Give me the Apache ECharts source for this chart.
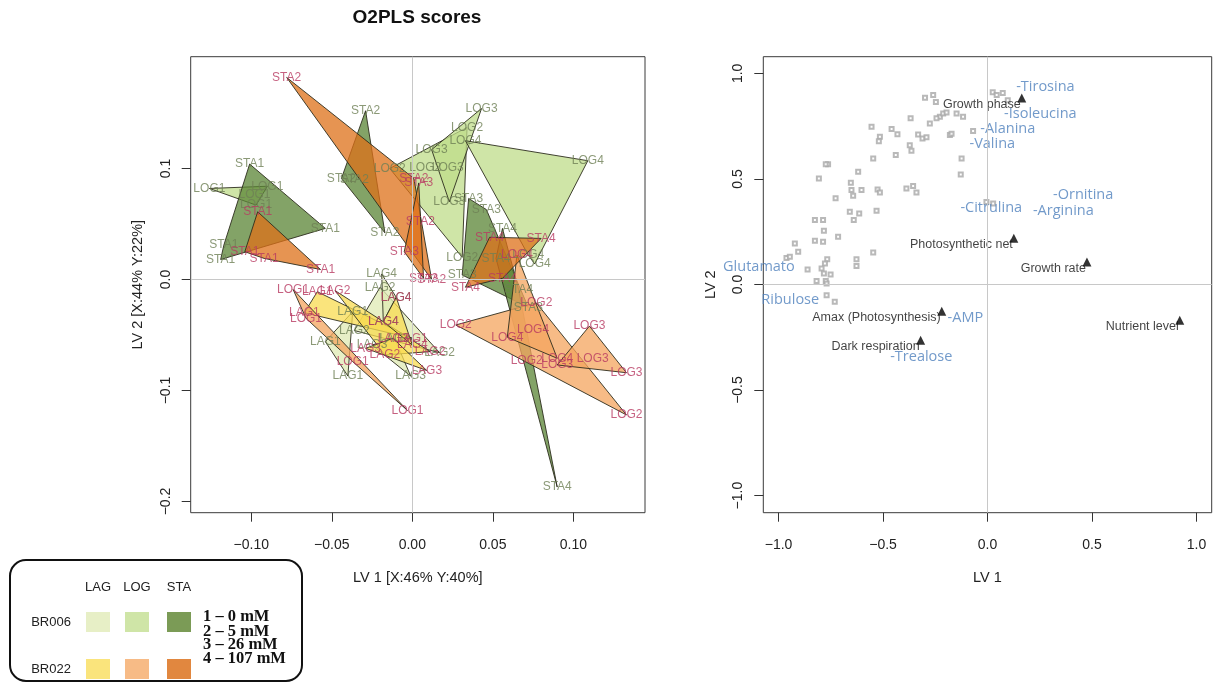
<!DOCTYPE html>
<html>
<head>
<meta charset="utf-8">
<title>O2PLS scores</title>
<script src="https://cdn.jsdelivr.net/npm/echarts@6/dist/echarts.min.js"></script>
<style>
  html, body { margin: 0; padding: 0; background: #fff; }
  #chart { width: 1228px; height: 683px; }
</style>
</head>
<body>
<div id="chart"></div>
<script>
// ---- Score plot (LV1 vs LV2): replicate scores per strain / growth phase.
// Each array holds four groups, one per nitrate dose (1..4).
const BR006_LAG = [
  [[-0.037, -0.029], [-0.040, -0.087], [-0.054, -0.056]],
  [[-0.020, -0.007], [0.017, -0.066], [-0.036, -0.046]],
  [[-0.001, -0.087], [-0.011, -0.053], [-0.025, -0.059]],
  [[-0.019, 0.005], [-0.010, -0.016], [-0.018, -0.038]]
];
const BR006_LOG = [
  [[-0.126, 0.082], [-0.090, 0.084], [-0.098, 0.076], [-0.097, 0.067]],
  [[-0.014, 0.100], [0.008, 0.101], [0.034, 0.137], [0.031, 0.020]],
  [[0.043, 0.154], [0.012, 0.117], [0.023, 0.070], [0.022, 0.101]],
  [[0.033, 0.125], [0.109, 0.107], [0.076, 0.014], [0.072, 0.022]]
];
const BR006_STA = [
  [[-0.101, 0.104], [-0.054, 0.046], [-0.117, 0.031], [-0.119, 0.018]],
  [[-0.029, 0.152], [-0.044, 0.091], [-0.036, 0.090], [-0.017, 0.042]],
  [[0.035, 0.073], [0.046, 0.063], [0.031, 0.004], [0.072, -0.025]],
  [[0.056, 0.046], [0.066, -0.009], [0.090, -0.187], [0.052, 0.019]]
];
const BR022_LAG = [
  [[-0.059, -0.011], [-0.067, -0.030], [0.000, -0.053]],
  [[-0.048, -0.010], [0.011, -0.065], [-0.017, -0.068]],
  [[-0.012, -0.053], [0.009, -0.082], [-0.029, -0.062]],
  [[-0.018, -0.038], [-0.010, -0.016], [0.000, -0.059]]
];
const BR022_LOG = [
  [[-0.074, -0.009], [-0.066, -0.035], [-0.037, -0.074], [-0.003, -0.118]],
  [[0.027, -0.041], [0.077, -0.021], [0.133, -0.122], [0.071, -0.073]],
  [[0.110, -0.042], [0.133, -0.084], [0.090, -0.077], [0.112, -0.071]],
  [[0.059, -0.052], [0.075, -0.045], [0.065, 0.022], [0.090, -0.071]]
];
const BR022_STA = [
  [[-0.096, 0.061], [-0.104, 0.025], [-0.057, 0.009], [-0.092, 0.019]],
  [[-0.078, 0.182], [0.001, 0.091], [0.005, 0.052], [0.012, 0.000]],
  [[0.004, 0.087], [-0.005, 0.025], [0.007, 0.001]],
  [[0.048, 0.038], [0.080, 0.037], [0.033, -0.007], [0.056, 0.001]]
];

const phases = ['LAG', 'LOG', 'STA'];
const strains = ['BR006', 'BR022'];
const doseLabels = ['1 \u2013 0 mM', '2 \u2013 5 mM', '3 \u2013 26 mM', '4 \u2013 107 mM'];
const scoreTicksX = [-0.10, -0.05, 0.00, 0.05, 0.10];
const scoreTicksY = [-0.2, -0.1, 0.0, 0.1];

// ---- Loading plot (LV1 vs LV2)
const loadTicks = [-1.0, -0.5, 0.0, 0.5, 1.0];
const metaboliteCloud = [
  [-0.299, 0.884], [-0.260, 0.897], [-0.247, 0.865], [-0.228, 0.794], [-0.212, 0.810],
  [-0.196, 0.815], [-0.244, 0.787], [-0.276, 0.763], [-0.148, 0.810], [-0.117, 0.794],
  [-0.368, 0.787], [-0.555, 0.747], [-0.459, 0.736], [-0.431, 0.712], [-0.515, 0.700],
  [-0.520, 0.679], [-0.332, 0.711], [-0.311, 0.692], [-0.292, 0.697], [-0.372, 0.660],
  [-0.364, 0.633], [-0.180, 0.708], [-0.172, 0.714], [-0.069, 0.727], [-0.124, 0.597],
  [-0.547, 0.597], [-0.439, 0.613], [-0.763, 0.569], [-0.774, 0.570], [-0.619, 0.534],
  [-0.807, 0.502], [-0.654, 0.482], [-0.651, 0.447], [-0.603, 0.448], [-0.643, 0.420],
  [-0.727, 0.408], [-0.526, 0.450], [-0.515, 0.436], [-0.388, 0.455], [-0.356, 0.466],
  [-0.340, 0.436], [-0.659, 0.344], [-0.614, 0.336], [-0.531, 0.349], [-0.640, 0.305],
  [-0.826, 0.305], [-0.787, 0.305], [-0.783, 0.254], [-0.715, 0.226], [-0.826, 0.207],
  [-0.787, 0.202], [-0.922, 0.194], [-0.906, 0.155], [-0.962, 0.126], [-0.946, 0.131],
  [-0.547, 0.152], [-0.627, 0.120], [-0.627, 0.088], [-0.767, 0.120], [-0.778, 0.100],
  [-0.861, 0.071], [-0.794, 0.076], [-0.783, 0.052], [-0.751, 0.047], [-0.818, 0.016],
  [-0.774, 0.016], [-0.770, 0.005], [-0.128, 0.521], [-0.005, 0.391], [0.027, 0.384],
  [-0.770, -0.051], [-0.731, -0.082], [0.025, 0.911], [0.044, 0.897], [0.073, 0.907],
  [0.097, 0.873]
];
const traitNames = ['Growth phase', 'Photosynthetic net', 'Growth rate', 'Nutrient level',
                    'Amax (Photosynthesis)', 'Dark respiration'];
const traitXY = [[0.164, 0.883], [0.126, 0.219], [0.476, 0.106], [0.920, -0.169],
                 [-0.219, -0.127], [-0.320, -0.264]];
const metaboliteNames = ['-Tirosina', '-Isoleucina', '-Alanina', '-Valina', '-Ornitina',
                         '-Arginina', '-Citrulina', 'Glutamato', 'Ribulose', '-AMP', '-Trealose'];
const metaboliteXY = [[0.277, 0.935], [0.253, 0.807], [0.097, 0.736], [0.023, 0.665],
                      [0.458, 0.423], [0.363, 0.347], [0.018, 0.362], [-1.094, 0.082],
                      [-0.944, -0.074], [-0.106, -0.160], [-0.317, -0.345]];

// ---- Styling
const SANS = '"Liberation Sans", Arial, sans-serif';
const swatch = {
  BR006: ['#e7efc6', '#cfe5a7', '#7b9b56'],
  BR022: ['#fae47c', '#f7bb86', '#e1873f']
};
const fillBase = {
  BR006: ['#dfeab3', '#bfdc8a', '#5a8434'],
  BR022: ['#f8db50', '#f4a45e', '#de7018']
};
const labelColor = { BR006: '#6e8055', BR022: '#b83a62' };
const FILL_ALPHA = 0.75;

function rgba(hex, a) {
  const n = parseInt(hex.slice(1), 16);
  return 'rgba(' + (n >> 16 & 255) + ',' + (n >> 8 & 255) + ',' + (n & 255) + ',' + a + ')';
}
function fmt(v, d) {
  const s = Math.abs(v) < 1e-9 ? (0).toFixed(d) : v.toFixed(d);
  return s.replace('-', '\u2212');
}
// convex hull (monotone chain) of pixel points
function hull(p) {
  const pts = p.slice().sort((a, b) => a[0] - b[0] || a[1] - b[1]);
  const cross = (o, a, b) => (a[0] - o[0]) * (b[1] - o[1]) - (a[1] - o[1]) * (b[0] - o[0]);
  const lo = [], up = [];
  for (const q of pts) {
    while (lo.length >= 2 && cross(lo[lo.length - 2], lo[lo.length - 1], q) <= 0) lo.pop();
    lo.push(q);
  }
  for (let i = pts.length - 1; i >= 0; i--) {
    const q = pts[i];
    while (up.length >= 2 && cross(up[up.length - 2], up[up.length - 1], q) <= 0) up.pop();
    up.push(q);
  }
  up.pop(); lo.pop();
  return lo.concat(up);
}

const scoreSets = {
  BR006: [BR006_LAG, BR006_LOG, BR006_STA],
  BR022: [BR022_LAG, BR022_LOG, BR022_STA]
};

const series = [];

// zero reference lines
[0, 1].forEach(k => {
  series.push({
    type: 'line', xAxisIndex: k, yAxisIndex: k, data: [], z: 1, silent: true,
    markLine: {
      silent: true, symbol: 'none', animation: false,
      label: { show: false },
      lineStyle: { color: '#c8c8c8', type: 'solid', width: 1 },
      data: [{ xAxis: 0 }, { yAxis: 0 }]
    }
  });
});

// group hulls
strains.forEach(st => {
  scoreSets[st].forEach((groups, pi) => {
    series.push({
      type: 'custom', name: st + ' ' + phases[pi], xAxisIndex: 0, yAxisIndex: 0, z: 2,
      data: groups.map((g, i) => [g[0][0], g[0][1], i]),
      encode: { x: 0, y: 1 },
      renderItem(params, api) {
        const g = groups[api.value(2)];
        const pts = hull(g.map(p => api.coord(p)));
        return {
          type: 'polygon',
          shape: { points: pts },
          style: { fill: rgba(fillBase[st][pi], FILL_ALPHA), stroke: 'rgba(45,45,30,0.9)', lineWidth: 1 }
        };
      }
    });
  });
});

// point labels (phase + dose)
strains.forEach(st => {
  const data = [];
  scoreSets[st].forEach((groups, pi) => {
    groups.forEach((g, di) => {
      g.forEach(p => data.push({ value: p, name: phases[pi] + (di + 1) }));
    });
  });
  series.push({
    type: 'scatter', xAxisIndex: 0, yAxisIndex: 0, z: 3, data,
    symbolSize: 1, itemStyle: { color: 'transparent' },
    label: { show: true, position: 'inside', formatter: '{b}', color: labelColor[st],
             fontSize: 12, fontFamily: SANS }
  });
});

// loading plot: metabolite cloud
series.push({
  type: 'scatter', xAxisIndex: 1, yAxisIndex: 1, z: 2, data: metaboliteCloud,
  symbol: 'emptyRect', symbolSize: 4,
  itemStyle: { color: '#a8a8a8', borderColor: '#a8a8a8', borderWidth: 0.8 }
});
// physiological traits
series.push({
  type: 'scatter', xAxisIndex: 1, yAxisIndex: 1, z: 4,
  data: traitXY.map((p, i) => ({ value: p, name: traitNames[i] })),
  symbol: 'triangle', symbolSize: 9, itemStyle: { color: '#000' },
  label: { show: true, position: 'left', distance: -3.5, offset: [0, 6.5], formatter: '{b}',
           color: '#111', fontSize: 12.5, fontFamily: SANS }
});
// metabolite names
series.push({
  type: 'scatter', xAxisIndex: 1, yAxisIndex: 1, z: 3, clip: false,
  data: metaboliteXY.map((p, i) => ({ value: p, name: metaboliteNames[i] })),
  symbolSize: 1, itemStyle: { color: 'transparent' },
  label: { show: true, position: 'inside', formatter: '{b}', color: '#4f81bd',
           fontSize: 14.5, fontFamily: '"Open Sans", "Noto Sans", sans-serif' }
});

function xAxisDef(grid, min, max, ticks, dec, name) {
  return {
    gridIndex: grid, type: 'value', min, max, position: 'bottom',
    splitLine: { show: false }, axisLine: { show: false, onZero: false },
    axisTick: { show: true, inside: false, length: 9, customValues: ticks,
                lineStyle: { color: '#333', width: 1 } },
    axisLabel: { customValues: ticks, formatter: v => fmt(v, dec), margin: 25,
                 fontSize: 14, color: '#222', fontFamily: SANS },
    name, nameLocation: 'middle', nameGap: 58,
    nameTextStyle: { fontSize: 14.5, color: '#222', fontFamily: SANS }
  };
}
function yAxisDef(grid, min, max, ticks, dec, name) {
  return {
    gridIndex: grid, type: 'value', min, max, position: 'left',
    splitLine: { show: false }, axisLine: { show: false, onZero: false },
    axisTick: { show: true, inside: false, length: 9, customValues: ticks,
                lineStyle: { color: '#333', width: 1 } },
    axisLabel: { customValues: ticks, formatter: v => fmt(v, dec), rotate: 90, margin: 18,
                 fontSize: 14, color: '#222', fontFamily: SANS },
    name, nameLocation: 'middle', nameGap: 45,
    nameTextStyle: { fontSize: 14.5, color: '#222', fontFamily: SANS }
  };
}

// legend panel
const legend = [
  { type: 'rect', shape: { x: 10, y: 560, width: 292, height: 121, r: 16 },
    style: { fill: '#fff', stroke: '#111', lineWidth: 2 } }
];
const colX = [98, 137, 179];
phases.forEach((ph, i) => legend.push({
  type: 'text', x: colX[i], y: 587,
  style: { text: ph, fill: '#222', font: '13px ' + SANS, align: 'center', verticalAlign: 'middle' }
}));
strains.forEach((st, r) => {
  const cy = r === 0 ? 622 : 669;
  legend.push({
    type: 'text', x: 51, y: cy,
    style: { text: st, fill: '#222', font: '13px ' + SANS, align: 'center', verticalAlign: 'middle' }
  });
  phases.forEach((ph, i) => legend.push({
    type: 'rect', shape: { x: colX[i] - 12, y: cy - 10, width: 24, height: 20 },
    style: { fill: swatch[st][i] }
  }));
});
const doseY = [617, 632, 645, 659];
doseLabels.forEach((t, i) => legend.push({
  type: 'text', x: 203, y: doseY[i],
  style: { text: t, fill: '#111', font: 'bold 16.5px "Liberation Serif", "Times New Roman", serif',
           align: 'left', verticalAlign: 'middle' }
}));
legend.push({
  type: 'text', x: 417, y: 18,
  style: { text: 'O2PLS scores', fill: '#111', font: 'bold 19px ' + SANS,
           align: 'center', verticalAlign: 'middle' }
});

const chart = echarts.init(document.getElementById('chart'), null, { renderer: 'canvas' });
chart.setOption({
  animation: false,
  backgroundColor: '#fff',
  grid: [
    { left: 190.7, top: 56.7, width: 454.3, height: 456, show: true, borderColor: '#3a3a3a', borderWidth: 1 },
    { left: 763.3, top: 56.7, width: 448.4, height: 456, show: true, borderColor: '#3a3a3a', borderWidth: 1 }
  ],
  xAxis: [
    xAxisDef(0, -0.1376, 0.1445, scoreTicksX, 2, 'LV 1 [X:46% Y:40%]'),
    xAxisDef(1, -1.073, 1.073, loadTicks, 1, 'LV 1')
  ],
  yAxis: [
    yAxisDef(0, -0.2101, 0.2007, scoreTicksY, 1, 'LV 2 [X:44% Y:22%]'),
    yAxisDef(1, -1.081, 1.079, loadTicks, 1, 'LV 2')
  ],
  series,
  graphic: legend
});
</script>
</body>
</html>
